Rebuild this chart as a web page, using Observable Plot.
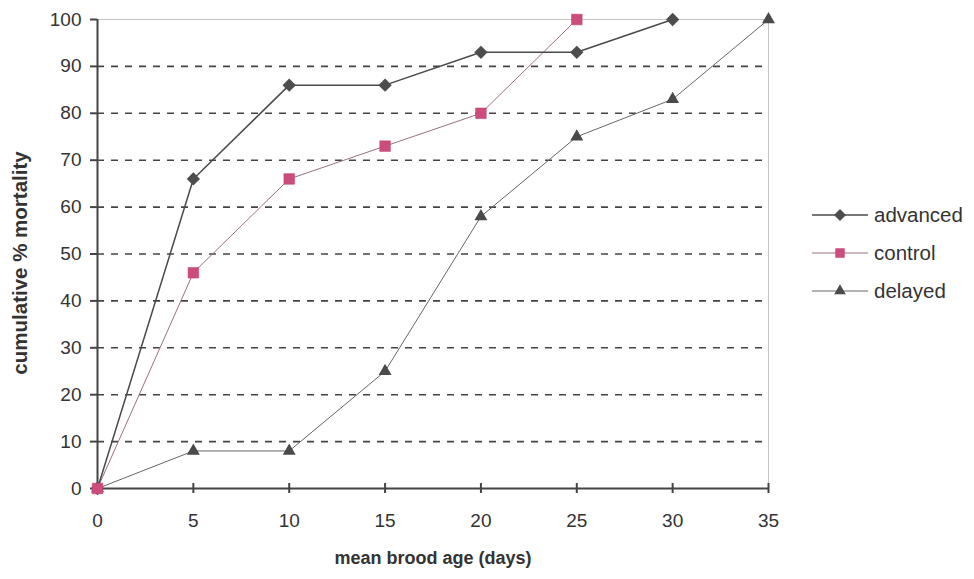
<!DOCTYPE html>
<html>
<head>
<meta charset="utf-8">
<script src="https://cdn.jsdelivr.net/npm/d3@7"></script>
<script src="https://cdn.jsdelivr.net/npm/@observablehq/plot@0.6"></script>
<style>
  html, body { margin: 0; padding: 0; background: #fff; }
  #wrap { position: relative; width: 974px; height: 579px; font-family: "Liberation Sans", Arial, sans-serif; }
  #legend { position: absolute; left: 805px; top: 196px; }
</style>
</head>
<body>
<div id="wrap"><div id="chart"></div><div id="legend"></div></div>
<script>
// ---- data ----
const ages = [0, 5, 10, 15, 20, 25, 30, 35];
const advanced = [0, 66, 86, 86, 93, 93, 100];
const control = [0, 46, 66, 73, 80, 100];
const delayed = [0, 8, 8, 25, 58, 75, 83, 100];
const seriesNames = ["advanced", "control", "delayed"];
const xTicks = [0, 5, 10, 15, 20, 25, 30, 35];
const yTicks = [0, 10, 20, 30, 40, 50, 60, 70, 80, 90, 100];
const gridLines = [10, 20, 30, 40, 50, 60, 70, 80, 90];

const toRows = (vals) => vals.map((v, i) => ({age: ages[i], value: v}));
const advRows = toRows(advanced);
const ctlRows = toRows(control);
const delRows = toRows(delayed);

const styleMap = {
  advanced: {line: "#4a4a4a", lw: 1.5, fill: "#4d4d4d", symbol: "diamond2", r: 6},
  control: {line: "#9a7080", lw: 1, fill: "#cc4c7c", symbol: "square", r: 6},
  delayed: {line: "#666666", lw: 1, fill: "#4a4a4a", symbol: "triangle", r: 4.8}
};

const chart = Plot.plot({
  width: 974,
  height: 579,
  marginLeft: 97,
  marginRight: 206,
  marginTop: 19,
  marginBottom: 91,
  x: {domain: [0, 35]},
  y: {domain: [0, 100]},
  style: {fontFamily: "'Liberation Sans', Arial, sans-serif", fontSize: "19px", color: "#333", background: "#fff"},
  marks: [
    Plot.ruleY(gridLines, {stroke: "#444", strokeWidth: 1.6, strokeDasharray: "7,7"}),
    Plot.ruleY([100], {stroke: "#c4c4c4", strokeWidth: 1}),
    Plot.ruleX([35], {stroke: "#c4c4c4", strokeWidth: 1}),
    Plot.ruleX([0], {stroke: "#444", strokeWidth: 2}),
    Plot.ruleY([0], {stroke: "#444", strokeWidth: 2}),
    Plot.axisY({ticks: yTicks, tickSize: 7, tickPadding: 9, label: null, stroke: "#444", strokeWidth: 2, fill: "#333"}),
    Plot.axisX({ticks: xTicks, tickSize: 10, dy: -5, tickFormat: () => "", label: null, stroke: "#444", strokeWidth: 2}),
    Plot.axisX({ticks: xTicks, tickSize: 0, tickPadding: 25, label: null, fill: "#333"}),
    Plot.text(["mean brood age (days)"], {frameAnchor: "bottom", dy: 75, fontWeight: "bold", fontSize: 18, fill: "#333"}),
    Plot.text(["cumulative % mortality"], {frameAnchor: "left", textAnchor: "middle", rotate: -90, dx: -77, dy: 9, fontWeight: "bold", fontSize: 20.5, fill: "#333"}),
    Plot.line(delRows, {x: "age", y: "value", stroke: styleMap.delayed.line, strokeWidth: styleMap.delayed.lw}),
    Plot.line(ctlRows, {x: "age", y: "value", stroke: styleMap.control.line, strokeWidth: styleMap.control.lw}),
    Plot.line(advRows, {x: "age", y: "value", stroke: styleMap.advanced.line, strokeWidth: styleMap.advanced.lw}),
    Plot.dot(delRows, {x: "age", y: "value", symbol: styleMap.delayed.symbol, r: styleMap.delayed.r, fill: styleMap.delayed.fill}),
    Plot.dot(advRows, {x: "age", y: "value", symbol: styleMap.advanced.symbol, r: styleMap.advanced.r, fill: styleMap.advanced.fill}),
    Plot.dot(ctlRows, {x: "age", y: "value", symbol: styleMap.control.symbol, r: styleMap.control.r, fill: styleMap.control.fill, stroke: "#b84070", strokeWidth: 0.5})
  ]
});
document.getElementById("chart").appendChild(chart);

// ---- legend ----
const symbolFns = {diamond2: d3.symbolDiamond2, square: d3.symbolSquare, triangle: d3.symbolTriangle};
const lg = d3.select("#legend").append("svg").attr("width", 169).attr("height", 120)
  .style("font-family", "'Liberation Sans', Arial, sans-serif").style("font-size", "20.5px");
seriesNames.forEach((name, i) => {
  const s = styleMap[name];
  const g = lg.append("g").attr("transform", `translate(0,${19 + i * 38})`);
  g.append("line").attr("x1", 7).attr("x2", 63).attr("y1", 0).attr("y2", 0)
    .attr("stroke", s.line).attr("stroke-width", s.lw);
  g.append("path").attr("transform", "translate(35,0)")
    .attr("d", d3.symbol(symbolFns[s.symbol], Math.PI * s.r * s.r * 0.8)())
    .attr("fill", s.fill);
  g.append("text").attr("x", 69).attr("y", 0).attr("dy", "0.35em").attr("fill", "#333").text(name);
});
</script>
</body>
</html>
